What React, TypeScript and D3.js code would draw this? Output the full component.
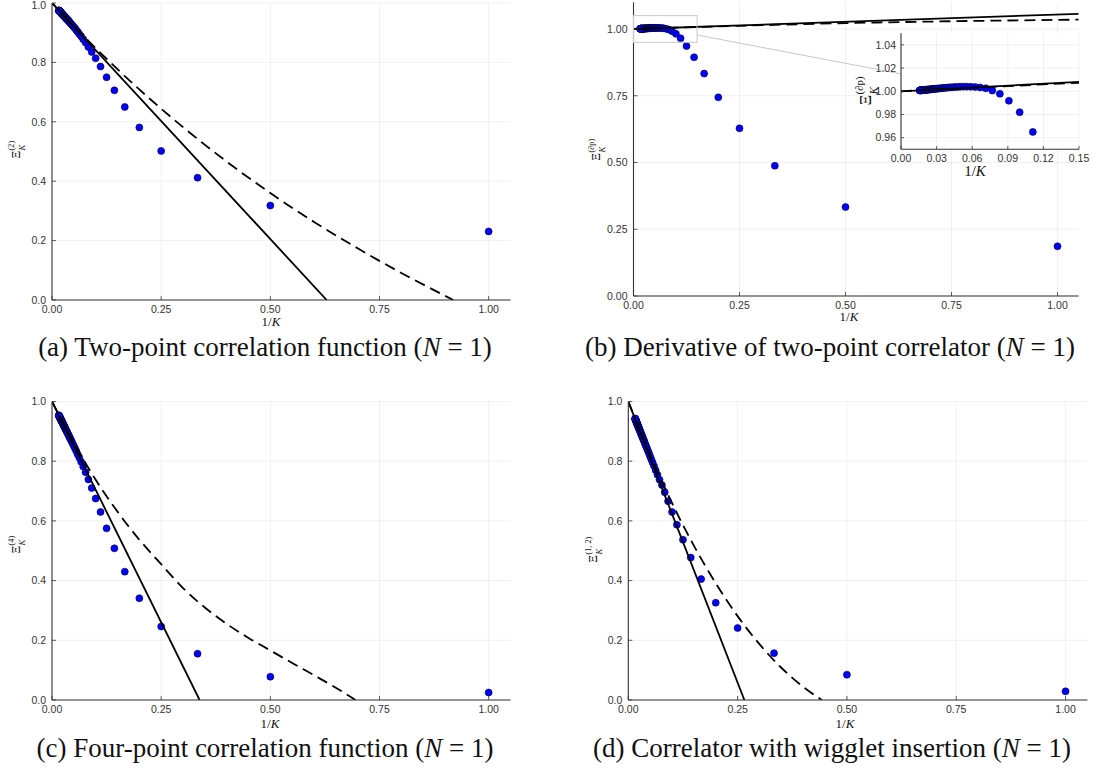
import React, { useEffect, useRef } from 'react';
import * as d3 from 'd3';

// K = 1 ... 64, plotted against 1/K
const K_VALUES = [
  1, 2, 3, 4, 5, 6, 7, 8, 9, 10, 11, 12, 13, 14, 15, 16, 17, 18, 19, 20,
  21, 22, 23, 24, 25, 26, 27, 28, 29, 30, 31, 32, 33, 34, 35, 36, 37, 38, 39, 40,
  41, 42, 43, 44, 45, 46, 47, 48, 49, 50, 51, 52, 53, 54, 55, 56, 57, 58, 59, 60,
  61, 62, 63, 64,
];

// (a) two-point correlation function
const XI_TWO_POINT = [
  0.231, 0.318, 0.412, 0.502, 0.581, 0.650, 0.706, 0.750, 0.786, 0.814,
  0.835, 0.852, 0.867, 0.878, 0.888, 0.896, 0.903, 0.909, 0.915, 0.919,
  0.923, 0.927, 0.930, 0.933, 0.936, 0.939, 0.941, 0.943, 0.945, 0.947,
  0.949, 0.950, 0.952, 0.953, 0.955, 0.956, 0.957, 0.958, 0.959, 0.960,
  0.961, 0.962, 0.963, 0.964, 0.965, 0.965, 0.966, 0.967, 0.968, 0.968,
  0.969, 0.969, 0.970, 0.971, 0.971, 0.972, 0.972, 0.973, 0.973, 0.974,
  0.974, 0.974, 0.975, 0.975,
];

// (b) derivative of two-point correlator
const XI_DERIVATIVE = [
  0.186, 0.333, 0.488, 0.628, 0.744, 0.833, 0.894, 0.936, 0.965, 0.982,
  0.9918, 0.9978, 1.0006, 1.0026, 1.0033, 1.0037, 1.0039, 1.004, 1.004, 1.0039,
  1.0038, 1.0037, 1.0035, 1.0034, 1.0033, 1.0031, 1.003, 1.0029, 1.0027, 1.0026,
  1.0025, 1.0024, 1.0023, 1.0022, 1.0021, 1.002, 1.0019, 1.0019, 1.0018, 1.0017,
  1.0016, 1.0016, 1.0015, 1.0015, 1.0014, 1.0014, 1.0013, 1.0013, 1.0012, 1.0012,
  1.0011, 1.0011, 1.0011, 1.001, 1.001, 1.001, 1.0009, 1.0009, 1.0009, 1.0009,
  1.0008, 1.0008, 1.0008, 1.0008,
];

// (c) four-point correlation function
const XI_FOUR_POINT = [
  0.025, 0.078, 0.155, 0.246, 0.341, 0.430, 0.508, 0.575, 0.630, 0.675,
  0.710, 0.739, 0.763, 0.782, 0.798, 0.812, 0.823, 0.834, 0.843, 0.851,
  0.858, 0.865, 0.871, 0.876, 0.881, 0.886, 0.890, 0.894, 0.898, 0.901,
  0.904, 0.907, 0.910, 0.913, 0.915, 0.918, 0.920, 0.922, 0.924, 0.926,
  0.928, 0.929, 0.931, 0.933, 0.934, 0.936, 0.937, 0.938, 0.940, 0.941,
  0.942, 0.943, 0.944, 0.945, 0.946, 0.947, 0.948, 0.949, 0.950, 0.951,
  0.951, 0.952, 0.953, 0.954,
];

// (d) correlator with wigglet insertion
const XI_WIGGLET = [
  0.029, 0.085, 0.157, 0.241, 0.326, 0.405, 0.477, 0.537, 0.587, 0.630,
  0.666, 0.696, 0.720, 0.738, 0.755, 0.770, 0.784, 0.796, 0.806, 0.816,
  0.825, 0.833, 0.840, 0.847, 0.853, 0.858, 0.864, 0.869, 0.873, 0.877,
  0.881, 0.885, 0.888, 0.892, 0.895, 0.898, 0.901, 0.903, 0.906, 0.908,
  0.910, 0.912, 0.914, 0.916, 0.918, 0.920, 0.922, 0.923, 0.925, 0.926,
  0.928, 0.929, 0.931, 0.932, 0.933, 0.934, 0.935, 0.937, 0.938, 0.939,
  0.940, 0.941, 0.942, 0.943,
];

// solid (leading order) and dashed (next order) curves
const SOLID_A_X = [0, 0.629];
const SOLID_A_Y = [1, 0];
const DASHED_A_X = [0, 0.1, 0.2, 0.3, 0.4, 0.5, 0.6, 0.7, 0.8, 0.919];
const DASHED_A_Y = [1, 0.848, 0.709, 0.582, 0.466, 0.36, 0.263, 0.174, 0.091, 0];

const SOLID_B_X = [0, 1.05];
const SOLID_B_Y = [1, 1.057];
const DASHED_B_X = [0, 0.25, 0.5, 0.75, 1.05];
const DASHED_B_Y = [1, 1.012, 1.022, 1.029, 1.035];

const SOLID_C_X = [0, 0.338];
const SOLID_C_Y = [1, 0];
const DASHED_C_X = [0, 0.05, 0.1, 0.15, 0.2, 0.25, 0.3, 0.35, 0.4, 0.45, 0.5, 0.55, 0.6, 0.65, 0.695];
const DASHED_C_Y = [1, 0.861, 0.738, 0.631, 0.537, 0.455, 0.375, 0.31, 0.255, 0.208, 0.166, 0.124, 0.083, 0.041, 0];

const SOLID_D_X = [0, 0.2655];
const SOLID_D_Y = [1, 0];
const DASHED_D_X = [0, 0.05, 0.1, 0.15, 0.2, 0.25, 0.3, 0.35, 0.4, 0.4425];
const DASHED_D_Y = [1, 0.821, 0.66, 0.517, 0.391, 0.281, 0.187, 0.108, 0.044, 0];

// ticks
const X_TICKS = [0, 0.25, 0.5, 0.75, 1.0];
const Y_TICKS_TENTHS = [0, 0.2, 0.4, 0.6, 0.8, 1.0];
const Y_TICKS_QUARTERS = [0, 0.25, 0.5, 0.75, 1.0];
const INSET_X_TICKS = [0, 0.03, 0.06, 0.09, 0.12, 0.15];
const INSET_Y_TICKS = [0.96, 0.98, 1.0, 1.02, 1.04];

const CAPTIONS = [
  '(a) Two-point correlation function (',
  '(b) Derivative of two-point correlator (',
  '(c) Four-point correlation function (',
  '(d) Correlator with wigglet insertion (',
];
const SUPERSCRIPTS = ['(2)', '(∂p)', '(4)', '(1, 2)'];

const SANS = '"Liberation Sans", Arial, sans-serif';
const SERIF = '"Liberation Serif", "DejaVu Serif", serif';

const toPoints = (xs, ys) => xs.map((d, i) => [d, ys[i]]);

const PANELS = [
  { left: 52, right: 510.5, top: 3, bottom: 300, yMax: 1, yTicks: Y_TICKS_TENTHS, yFmt: '.1f',
    values: XI_TWO_POINT, solid: toPoints(SOLID_A_X, SOLID_A_Y), dashed: toPoints(DASHED_A_X, DASHED_A_Y),
    labelX: 20, labelY: 150, xLabelX: 271, xLabelY: 326, capX: 265, capY: 356 },
  { left: 633.5, right: 1078.7, top: 2.3, bottom: 296, yMax: 1.1, yTicks: Y_TICKS_QUARTERS, yFmt: '.2f',
    values: XI_DERIVATIVE, solid: toPoints(SOLID_B_X, SOLID_B_Y), dashed: toPoints(DASHED_B_X, DASHED_B_Y),
    labelX: 600, labelY: 150, xLabelX: 849, xLabelY: 321, capX: 830, capY: 356 },
  { left: 52, right: 510.5, top: 401.5, bottom: 700, yMax: 1, yTicks: Y_TICKS_TENTHS, yFmt: '.1f',
    values: XI_FOUR_POINT, solid: toPoints(SOLID_C_X, SOLID_C_Y), dashed: toPoints(DASHED_C_X, DASHED_C_Y),
    labelX: 20, labelY: 545, xLabelX: 270, xLabelY: 728, capX: 265, capY: 757 },
  { left: 628.3, right: 1087.4, top: 401.5, bottom: 700, yMax: 1, yTicks: Y_TICKS_TENTHS, yFmt: '.1f',
    values: XI_WIGGLET, solid: toPoints(SOLID_D_X, SOLID_D_Y), dashed: toPoints(DASHED_D_X, DASHED_D_Y),
    labelX: 597, labelY: 550, xLabelX: 845, xLabelY: 728, capX: 832, capY: 757 },
];

const yLabel = (g, x0, cy, sup, size) => {
  const lab = g.append('g').attr('transform', `translate(${x0},${cy}) rotate(-90)`)
    .style('font-family', SERIF).attr('fill', '#111');
  const xi = lab.append('text').style('font-size', `${size}px`).text('Ξ');
  const s = lab.append('text').style('font-size', `${size * 0.68}px`).attr('y', -size * 0.5).text(sup);
  const k = lab.append('text').style('font-size', `${size * 0.72}px`).style('font-style', 'italic')
    .attr('y', size * 0.42).text('K');
  const xw = xi.node().getComputedTextLength();
  const sw = s.node().getComputedTextLength();
  const start = -(xw + sw) / 2;
  xi.attr('x', start);
  s.attr('x', start + xw + 0.5);
  k.attr('x', start + xw + 0.5);
};

const xLabel = (g, cx, y0, size) => {
  const t = g.append('text').attr('x', cx).attr('y', y0).attr('text-anchor', 'middle')
    .style('font-family', SERIF).style('font-size', `${size}px`).attr('fill', '#111');
  t.append('tspan').text('1/');
  t.append('tspan').style('font-style', 'italic').text('K');
};

const App = () => {
  const ref = useRef(null);

  const graph = () => {
    const svg = d3.select(ref.current);
    svg.selectAll('*').remove();
    const defs = svg.append('defs');

    PANELS.forEach((p, pi) => {
      const x = d3.scaleLinear().domain([0, 1.05]).range([p.left, p.right]);
      const y = d3.scaleLinear().domain([0, p.yMax]).range([p.bottom, p.top]);
      const g = svg.append('g');

      defs.append('clipPath').attr('id', `clip${pi}`).append('rect')
        .attr('x', p.left).attr('y', p.top).attr('width', p.right - p.left).attr('height', p.bottom - p.top);

      // grid
      g.selectAll('.gx').data(X_TICKS).enter().append('line')
        .attr('x1', d => x(d)).attr('x2', d => x(d)).attr('y1', p.top).attr('y2', p.bottom)
        .attr('stroke', '#000').attr('stroke-opacity', 0.1).attr('stroke-width', 0.6);
      g.selectAll('.gy').data(p.yTicks).enter().append('line')
        .attr('y1', d => y(d)).attr('y2', d => y(d)).attr('x1', p.left).attr('x2', p.right)
        .attr('stroke', '#000').attr('stroke-opacity', 0.1).attr('stroke-width', 0.6);

      // data
      const plot = g.append('g').attr('clip-path', `url(#clip${pi})`);
      plot.selectAll('circle').data(K_VALUES).enter().append('circle')
        .attr('cx', d => x(1 / d)).attr('cy', (d, i) => y(p.values[i])).attr('r', 3.5)
        .attr('fill', '#0000ff').attr('stroke', '#000033').attr('stroke-width', 0.6);

      const line = d3.line().x(d => x(d[0])).y(d => y(d[1])).curve(d3.curveMonotoneX);
      plot.append('path').attr('d', line(p.solid)).attr('fill', 'none')
        .attr('stroke', '#000').attr('stroke-width', 1.8);
      plot.append('path').attr('d', line(p.dashed)).attr('fill', 'none')
        .attr('stroke', '#000').attr('stroke-width', 1.8).attr('stroke-dasharray', '11,6');

      // axes
      g.append('line').attr('x1', p.left).attr('x2', p.left).attr('y1', p.top).attr('y2', p.bottom)
        .attr('stroke', '#333').attr('stroke-width', 1.1);
      g.append('line').attr('x1', p.left).attr('x2', p.right).attr('y1', p.bottom).attr('y2', p.bottom)
        .attr('stroke', '#333').attr('stroke-width', 1.1);
      g.selectAll('.tx').data(X_TICKS).enter().append('line')
        .attr('x1', d => x(d)).attr('x2', d => x(d)).attr('y1', p.bottom).attr('y2', p.bottom - 4)
        .attr('stroke', '#333').attr('stroke-width', 0.8);
      g.selectAll('.ty').data(p.yTicks).enter().append('line')
        .attr('y1', d => y(d)).attr('y2', d => y(d)).attr('x1', p.left).attr('x2', p.left + 4)
        .attr('stroke', '#333').attr('stroke-width', 0.8);

      g.selectAll('.lx').data(X_TICKS).enter().append('text')
        .attr('x', d => x(d)).attr('y', p.bottom + 13).attr('text-anchor', 'middle')
        .style('font-family', SANS).style('font-size', '10.5px').attr('fill', '#333')
        .text(d3.format('.2f'));
      g.selectAll('.ly').data(p.yTicks).enter().append('text')
        .attr('x', p.left - 6).attr('y', d => Math.max(y(d), 5)).attr('dy', '0.36em').attr('text-anchor', 'end')
        .style('font-family', SANS).style('font-size', '10.5px').attr('fill', '#333')
        .text(d3.format(p.yFmt));

      yLabel(g, p.labelX, p.labelY, SUPERSCRIPTS[pi], 12);
      xLabel(g, p.xLabelX, p.xLabelY, 13);

      const cap = g.append('text').attr('x', p.capX).attr('y', p.capY).attr('text-anchor', 'middle')
        .style('font-family', SERIF).style('font-size', '27px').attr('fill', '#111');
      cap.append('tspan').text(CAPTIONS[pi]);
      cap.append('tspan').style('font-style', 'italic').text('N');
      cap.append('tspan').text(' = 1)');

      // zoom window for panel (b)
      if (pi === 1) {
        const ix = d3.scaleLinear().domain([0, 0.15]).range([901, 1079]);
        const iy = d3.scaleLinear().domain([0.95, 1.05]).range([149.3, 33.3]);

        g.append('line').attr('x1', x(0.15)).attr('y1', y(0.9775)).attr('x2', 901).attr('y2', iy(1.015))
          .attr('stroke', '#c8c8c8').attr('stroke-width', 1);
        g.append('rect').attr('x', x(0)).attr('y', y(1.05)).attr('width', x(0.15) - x(0))
          .attr('height', y(0.95) - y(1.05)).attr('fill', 'none').attr('stroke', '#c8c8c8').attr('stroke-width', 1);

        const ins = svg.append('g');
        ins.append('rect').attr('x', 901).attr('y', 33.3).attr('width', 178).attr('height', 116).attr('fill', '#fff');
        defs.append('clipPath').attr('id', 'clipInset').append('rect')
          .attr('x', 901).attr('y', 33.3).attr('width', 178).attr('height', 116);

        ins.selectAll('.gx').data(INSET_X_TICKS).enter().append('line')
          .attr('x1', d => ix(d)).attr('x2', d => ix(d)).attr('y1', 33.3).attr('y2', 149.3)
          .attr('stroke', '#000').attr('stroke-opacity', 0.1).attr('stroke-width', 0.6);
        ins.selectAll('.gy').data(INSET_Y_TICKS).enter().append('line')
          .attr('y1', d => iy(d)).attr('y2', d => iy(d)).attr('x1', 901).attr('x2', 1079)
          .attr('stroke', '#000').attr('stroke-opacity', 0.1).attr('stroke-width', 0.6);

        const iplot = ins.append('g').attr('clip-path', 'url(#clipInset)');
        iplot.selectAll('circle').data(K_VALUES).enter().append('circle')
          .attr('cx', d => ix(1 / d)).attr('cy', (d, i) => iy(XI_DERIVATIVE[i])).attr('r', 3.5)
          .attr('fill', '#0000ff').attr('stroke', '#000033').attr('stroke-width', 0.6);
        const iline = d3.line().x(d => ix(d[0])).y(d => iy(d[1])).curve(d3.curveMonotoneX);
        iplot.append('path').attr('d', iline(p.solid)).attr('fill', 'none')
          .attr('stroke', '#000').attr('stroke-width', 1.8);
        iplot.append('path').attr('d', iline(p.dashed)).attr('fill', 'none')
          .attr('stroke', '#000').attr('stroke-width', 1.8).attr('stroke-dasharray', '11,6');

        ins.append('line').attr('x1', 901).attr('x2', 901).attr('y1', 33.3).attr('y2', 149.3)
          .attr('stroke', '#333').attr('stroke-width', 1.1);
        ins.append('line').attr('x1', 901).attr('x2', 1079).attr('y1', 149.3).attr('y2', 149.3)
          .attr('stroke', '#333').attr('stroke-width', 1.1);
        ins.selectAll('.tx').data(INSET_X_TICKS).enter().append('line')
          .attr('x1', d => ix(d)).attr('x2', d => ix(d)).attr('y1', 149.3).attr('y2', 146)
          .attr('stroke', '#333').attr('stroke-width', 0.8);
        ins.selectAll('.ty').data(INSET_Y_TICKS).enter().append('line')
          .attr('y1', d => iy(d)).attr('y2', d => iy(d)).attr('x1', 901).attr('x2', 904)
          .attr('stroke', '#333').attr('stroke-width', 0.8);
        ins.selectAll('.lx').data(INSET_X_TICKS).enter().append('text')
          .attr('x', d => ix(d)).attr('y', 162).attr('text-anchor', 'middle')
          .style('font-family', SANS).style('font-size', '10.5px').attr('fill', '#333')
          .text(d3.format('.2f'));
        ins.selectAll('.ly').data(INSET_Y_TICKS).enter().append('text')
          .attr('x', 896).attr('y', d => iy(d)).attr('dy', '0.36em').attr('text-anchor', 'end')
          .style('font-family', SANS).style('font-size', '10.5px').attr('fill', '#333')
          .text(d3.format('.2f'));
        yLabel(ins, 871, 91, SUPERSCRIPTS[1], 16);
        xLabel(ins, 975, 176, 15);
      }
    });
  };

  useEffect(() => graph());

  return (
    <svg ref={ref} width="1094" height="774"
      style={{ position: 'absolute', left: 0, top: 0, background: '#fff' }} />
  );
};

export default App;
